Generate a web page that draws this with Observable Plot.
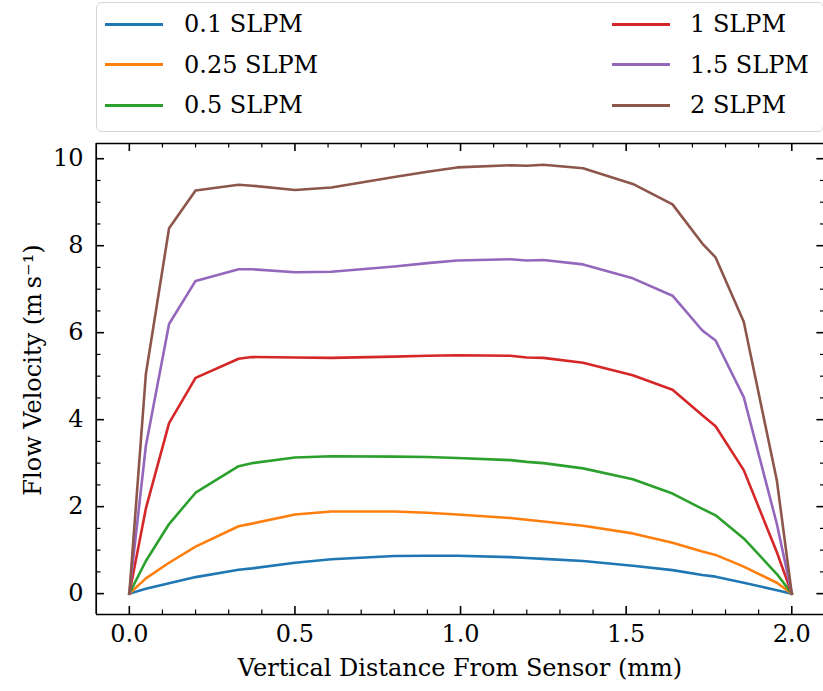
<!DOCTYPE html>
<html>
<head>
<meta charset="utf-8">
<script src="https://cdn.jsdelivr.net/npm/d3@7"></script>
<script src="https://cdn.jsdelivr.net/npm/@observablehq/plot@0.6"></script>
<style>
  html, body { margin: 0; padding: 0; background: #fff; }
  #chart { position: relative; width: 823px; height: 691px; overflow: hidden;
           font-family: "DejaVu Serif", "Liberation Serif", serif; }
  #legend { position: relative; width: 823px; height: 138px; }
  #legend .box { position: absolute; left: 96px; top: 2px; width: 728px; height: 130px;
                 box-sizing: border-box; border: 1.5px solid #d6d6d6; border-radius: 6px; }
  #legend .handle { position: absolute; width: 58px; height: 3px; }
  #legend .label { position: absolute; font-size: 24px; line-height: 1; transform: translateY(-50%);
                   white-space: nowrap; color: #000; }
  #plot svg { display: block; }
</style>
</head>
<body>
<div id="chart">
  <div id="legend"><div class="box"></div></div>
  <div id="plot"></div>
</div>
<script>
// Flow velocity profiles across the channel for six flow rates
const seriesNames = ["0.1 SLPM", "0.25 SLPM", "0.5 SLPM", "1 SLPM", "1.5 SLPM", "2 SLPM"];
const seriesColors = ["#1f77b4", "#ff7f0e", "#2ca02c", "#d62728", "#9467bd", "#8c564b"];

// Distance from the sensor (mm) at each sample point
const distance = [0, 0.05, 0.12, 0.2, 0.33, 0.37, 0.5, 0.61, 0.8, 0.9, 0.99, 1.15, 1.2, 1.25,
                  1.37, 1.52, 1.64, 1.73, 1.77, 1.855, 1.955, 2.0];

// Velocity (m/s) per flow rate at those distances
const v0_1  = [0, 0.11, 0.24, 0.38, 0.55, 0.58, 0.71, 0.79, 0.865, 0.87, 0.87, 0.84, 0.82, 0.80,
               0.75, 0.64, 0.54, 0.43, 0.39, 0.25, 0.08, 0];
const v0_25 = [0, 0.35, 0.71, 1.08, 1.55, 1.61, 1.82, 1.89, 1.89, 1.86, 1.82, 1.74, 1.70, 1.66,
               1.56, 1.385, 1.17, 0.97, 0.89, 0.62, 0.25, 0];
const v0_5  = [0, 0.75, 1.60, 2.32, 2.93, 3.00, 3.13, 3.16, 3.15, 3.14, 3.12, 3.07, 3.03, 3.00,
               2.88, 2.63, 2.30, 1.95, 1.80, 1.27, 0.45, 0];
const v1    = [0, 1.96, 3.92, 4.96, 5.40, 5.44, 5.43, 5.42, 5.45, 5.47, 5.48, 5.47, 5.43, 5.42,
               5.31, 5.02, 4.69, 4.10, 3.85, 2.84, 0.95, 0];
const v1_5  = [0, 3.40, 6.20, 7.19, 7.46, 7.46, 7.39, 7.40, 7.52, 7.60, 7.66, 7.69, 7.66, 7.67,
               7.57, 7.25, 6.85, 6.05, 5.82, 4.52, 1.60, 0];
const v2    = [0, 5.05, 8.40, 9.27, 9.40, 9.38, 9.28, 9.34, 9.58, 9.70, 9.80, 9.85, 9.84, 9.86,
               9.78, 9.42, 8.95, 8.05, 7.73, 6.25, 2.60, 0];

const seriesValues = [v0_1, v0_25, v0_5, v1, v1_5, v2];

// Axis ticks
const xMajor = [0, 0.5, 1.0, 1.5, 2.0];
const xMinor = [0.1, 0.2, 0.3, 0.4, 0.6, 0.7, 0.8, 0.9, 1.1, 1.2, 1.3, 1.4, 1.6, 1.7, 1.8, 1.9];
const yMajor = [0, 2, 4, 6, 8, 10];
const yMinor = [0.5, 1, 1.5, 2.5, 3, 3.5, 4.5, 5, 5.5, 6.5, 7, 7.5, 8.5, 9, 9.5];

const xLabel = "Vertical Distance From Sensor (mm)";
const yLabel = "Flow Velocity (m\u2009s\u207B\u00B9)";

// Long-format table for the line mark
const rows = [];
seriesNames.forEach((name, i) => {
  distance.forEach((d, j) => rows.push({series: name, distance: d, velocity: seriesValues[i][j]}));
});

// Legend (two columns, three rows)
const legend = document.getElementById("legend");
const rowY = [24, 64.5, 105];
seriesNames.forEach((name, i) => {
  const col = i < 3 ? 0 : 1;
  const r = i % 3;
  const h = document.createElement("div");
  h.className = "handle";
  h.style.left = (col ? 612 : 105) + "px";
  h.style.top = (rowY[r] - 1.5) + "px";
  h.style.background = seriesColors[i];
  legend.appendChild(h);
  const t = document.createElement("div");
  t.className = "label";
  t.style.left = (col ? 690 : 184) + "px";
  t.style.top = rowY[r] + "px";
  t.textContent = name;
  legend.appendChild(t);
});

// Plot geometry
const W = 823, H = 553, mL = 96, mR = 0, mT = 5, mB = 77;
const FW = W - mL - mR, FH = H - mT - mB;
const xDomain = [-0.1, 2.1], yDomain = [-0.48, 10.35];
const majorLen = 8, minorLen = 4.5;

const chart = Plot.plot({
  width: W,
  height: H,
  marginLeft: mL,
  marginRight: mR,
  marginTop: mT,
  marginBottom: mB,
  x: {domain: xDomain, range: [95.7, 824.4]},
  y: {domain: yDomain},
  color: {domain: seriesNames, range: seriesColors},
  style: {fontFamily: "'DejaVu Serif', 'Liberation Serif', serif", fontSize: "24px", background: "#fff", color: "#000"},
  marks: [
    // frame spines
    Plot.ruleY([yDomain[0]], {stroke: "#000", strokeWidth: 1.7}),
    Plot.ruleY([yDomain[1]], {stroke: "#000", strokeWidth: 1.7}),
    Plot.ruleX([xDomain[0]], {stroke: "#000", strokeWidth: 1.7}),
    Plot.ruleX([xDomain[1]], {stroke: "#000", strokeWidth: 1.7}),
    // inward ticks on all four sides
    Plot.ruleX(xMajor, {x: d => d, insetTop: FH - majorLen, stroke: "#000", strokeWidth: 1.6}),
    Plot.ruleX(xMinor, {x: d => d, insetTop: FH - minorLen, stroke: "#000", strokeWidth: 1.2}),
    Plot.ruleX(xMajor, {x: d => d, insetBottom: FH - majorLen, stroke: "#000", strokeWidth: 1.6}),
    Plot.ruleX(xMinor, {x: d => d, insetBottom: FH - minorLen, stroke: "#000", strokeWidth: 1.2}),
    Plot.ruleY(yMajor, {y: d => d, insetRight: FW - majorLen, stroke: "#000", strokeWidth: 1.6}),
    Plot.ruleY(yMinor, {y: d => d, insetRight: FW - minorLen, stroke: "#000", strokeWidth: 1.2}),
    Plot.ruleY(yMajor, {y: d => d, insetLeft: FW - 6.6, stroke: "#000", strokeWidth: 1.6}),
    Plot.ruleY(yMinor, {y: d => d, insetLeft: FW - 3, stroke: "#000", strokeWidth: 1.2}),
    // tick labels
    Plot.axisX(xMajor, {tickSize: 0, tickPadding: 10, tickFormat: d3.format(".1f"), label: null}),
    Plot.axisY(yMajor, {tickSize: 0, tickPadding: 13, tickFormat: d3.format("d"), label: null}),
    // axis titles
    Plot.text([xLabel], {frameAnchor: "bottom", dy: 54, lineAnchor: "middle", textAnchor: "middle", text: d => d}),
    Plot.text([yLabel], {frameAnchor: "left", dx: -63, dy: -9, rotate: -90, lineAnchor: "middle",
                         textAnchor: "middle", text: d => d}),
    // velocity profiles
    Plot.line(rows, {x: "distance", y: "velocity", z: "series", stroke: "series",
                     strokeWidth: 2.6, strokeLinejoin: "round", strokeLinecap: "square"})
  ]
});

document.getElementById("plot").appendChild(chart);
</script>
</body>
</html>
